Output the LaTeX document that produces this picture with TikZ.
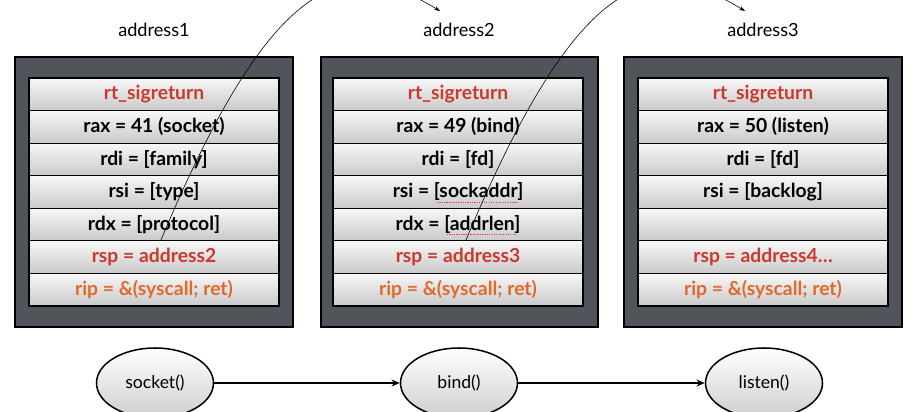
\documentclass[tikz,border=0pt]{standalone}
\usepackage{fontspec}
\setmainfont{Lato}
\usetikzlibrary{arrows.meta,shapes.geometric,shadows}
\definecolor{slate}{HTML}{50545B}
\definecolor{sigred}{HTML}{C9392C}
\definecolor{ripor}{HTML}{E06A2C}
\definecolor{spellred}{HTML}{F03C3C}
\begin{document}
\begin{tikzpicture}[x=0.03cm,y=-0.03cm,
  frame/.style={fill=slate,draw=black,line width=1.8pt,drop shadow={opacity=0.35,shadow xshift=1pt,shadow yshift=-1pt}},
  slot/.style={draw=black,line width=1pt,top color=gray!6,bottom color=gray!42,minimum width=7.5cm,minimum height=0.977cm,inner sep=0pt,font=\bfseries\fontsize{16.5}{19}\selectfont},
  title/.style={font=\fontsize{15.5}{18}\selectfont},
  call/.style={ellipse,draw=black,line width=1.3pt,top color=white,bottom color=gray!38,minimum width=3.51cm,minimum height=2.1cm,font=\fontsize{15}{18}\selectfont},
  jump/.style={line width=0.5pt,-{Stealth[length=5pt,width=3.5pt]}},
  flow/.style={line width=1.1pt,-{Stealth[length=7pt,width=6pt]}},
  squiggle/.style={spellred,line width=0.9pt,dash pattern=on 1pt off 1pt}]
\useasboundingbox (0,0) rectangle (915,411);
%\draw[step=50,gray,very thin] (0,0) grid (915,411); %background grid
\draw[frame] (15,57) rectangle (293,327); %frame 1
\draw[frame] (321,57) rectangle (598,327); %frame 2
\draw[frame] (624,57) rectangle (902,327); %frame 3
\node[title] (addr1) at (154,30) {address1};
\node[title] (addr2) at (459,30) {address2};
\node[title] (addr3) at (763,30) {address3};
% frame 1: socket
\node[slot,text=sigred] (b1sig) at (154,94.3) {rt\_sigreturn};
\node[slot] (b1rax) at (154,126.9) {rax = 41 (socket)};
\node[slot] (b1rdi) at (154,159.4) {rdi = [family]};
\node[slot] (b1rsi) at (154,192) {rsi = [type]};
\node[slot] (b1rdx) at (154,224.6) {rdx = [protocol]};
\node[slot,text=sigred] (b1rsp) at (154,257.1) {rsp = address2};
\node[slot,text=ripor] (b1rip) at (154,289.7) {rip = \&(syscall; ret)};
\draw[line width=1.8pt] (29,78) rectangle (279,306);
% frame 2: bind
\node[slot,text=sigred] (b2sig) at (458,94.3) {rt\_sigreturn};
\node[slot] (b2rax) at (458,126.9) {rax = 49 (bind)};
\node[slot] (b2rdi) at (458,159.4) {rdi = [fd]};
\node[slot] (b2rsi) at (458,192) {rsi = [sockaddr]};
\node[slot] (b2rdx) at (458,224.6) {rdx = [addrlen]};
\node[slot,text=sigred] (b2rsp) at (458,257.1) {rsp = address3};
\node[slot,text=ripor] (b2rip) at (458,289.7) {rip = \&(syscall; ret)};
\draw[line width=1.8pt] (333,78) rectangle (583,306);
\draw[squiggle] (437,202.5) -- (517,202.5); %spelling mark
\draw[squiggle] (447,234.5) -- (515,234.5); %spelling mark
% frame 3: listen
\node[slot,text=sigred] (b3sig) at (763,94.3) {rt\_sigreturn};
\node[slot] (b3rax) at (763,126.9) {rax = 50 (listen)};
\node[slot] (b3rdi) at (763,159.4) {rdi = [fd]};
\node[slot] (b3rsi) at (763,192) {rsi = [backlog]};
\node[slot] (b3rdx) at (763,224.6) {};
\node[slot,text=sigred] (b3rsp) at (763,257.1) {rsp = address4\dots};
\node[slot,text=ripor] (b3rip) at (763,289.7) {rip = \&(syscall; ret)};
\draw[line width=1.8pt] (638,78) rectangle (888,306);
% jumps to next frame
\coordinate (j1) at (161,240);
\coordinate (t2) at (440,11);
\coordinate (j2) at (466,240);
\coordinate (t3) at (745,11);
\draw[jump] (j1) .. controls +(115,-275) and +(-90,-55) .. (t2);
\draw[jump] (j2) .. controls +(115,-275) and +(-90,-55) .. (t3);
% syscalls
\node[call] (socket) at (155,383) {socket()};
\node[call] (bind) at (459,383) {bind()};
\node[call] (listen) at (764,383) {listen()};
\draw[flow] (socket) -- (bind);
\draw[flow] (bind) -- (listen);
\end{tikzpicture}
\end{document}
